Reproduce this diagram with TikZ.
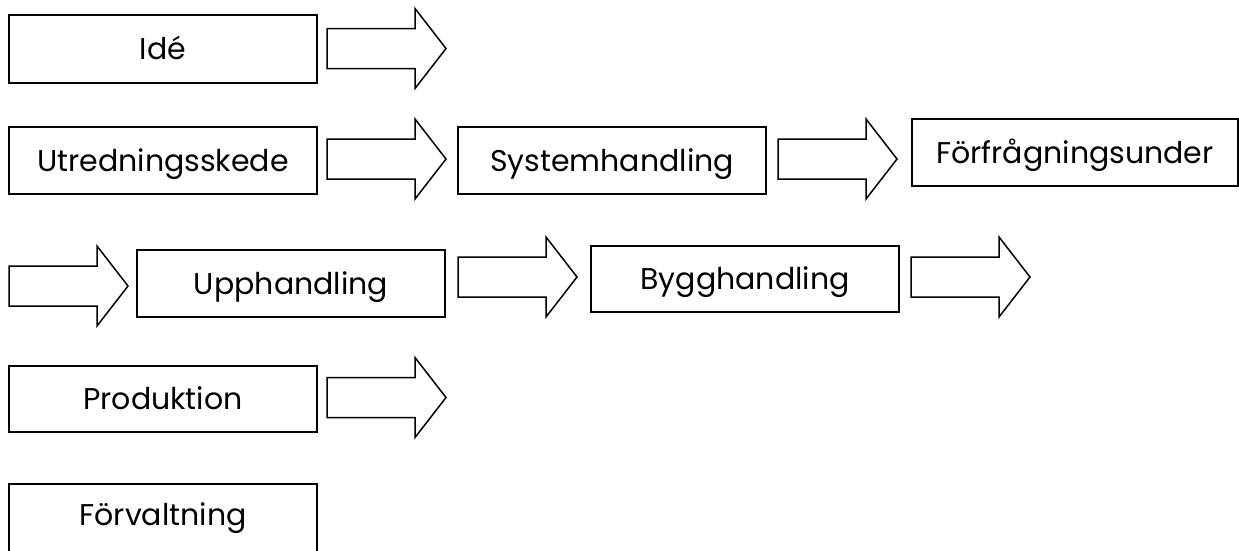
\documentclass[tikz,border=0pt]{standalone}
\usepackage{fontspec}
\setmainfont{Poppins}
\begin{document}
\begin{tikzpicture}[x=1pt,y=-1pt,
  stagefont/.style={font=\fontsize{30}{36}\selectfont},
  stage/.style={draw, line width=1.5pt, inner sep=0pt, minimum width=308pt, minimum height=67pt,
    text height=21pt, text depth=0pt, stagefont},
  blockline/.style={draw, line width=1.5pt, line join=miter, fill=white},
  pics/blockarrow/.style={code={
    \draw[blockline] (0,-20) -- (88,-20) -- (88,-40) -- (119,0) -- (88,40) -- (88,20) -- (0,20) -- cycle;}}]
\clip (0,0) rectangle (1239,550);
\fill[white] (0,0) rectangle (1239,550);
% row 1
\node[stage, minimum height=68pt] (ide) at (163,49) {Idé};
\pic at (327,48.5) {blockarrow};
% row 2
\node[stage] (utr) at (163,160.5) {Utredningsskede};
\pic at (327,159) {blockarrow};
\node[stage] (sys) at (612,160.5) {Systemhandling};
\pic at (778,159) {blockarrow};
\node[stage, minimum width=326pt] (forf) at (1075,152.5) {Förfrågningsunder};
% row 3
\pic at (9,286) {blockarrow};
\node[stage] (upph) at (291,283.5) {Upphandling};
\pic at (458,277) {blockarrow};
\node[stage, minimum height=66pt] (bygg) at (745,279) {Bygghandling};
\pic at (911,277) {blockarrow};
% row 4
\node[stage, minimum height=66pt] (prod) at (163,399) {Produktion};
\pic at (327,397.5) {blockarrow};
% row 5
\node[stage, minimum height=140pt] (forv) at (163,554) {};
\node[stagefont, inner sep=0pt, text height=21pt, text depth=0pt] (forvtext) at (163,514.5) {Förvaltning};
\end{tikzpicture}
\end{document}
